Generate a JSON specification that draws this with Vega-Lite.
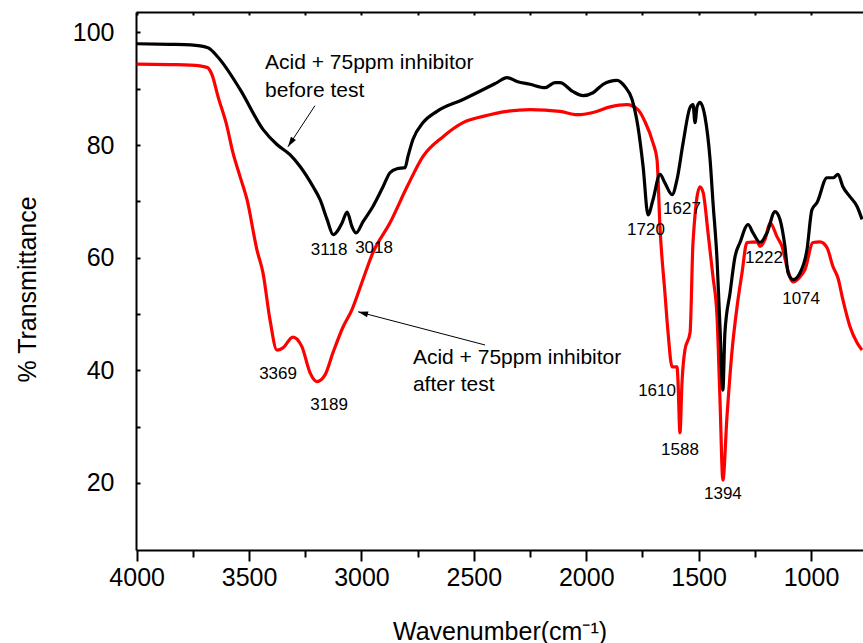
{
  "$schema": "https://vega.github.io/schema/vega-lite/v6.json",
  "width": 727,
  "height": 538,
  "autosize": {"type": "none"},
  "padding": {"left": 136, "top": 12, "right": 0, "bottom": 93},
  "background": "white",
  "config": {
    "view": {"stroke": null},
    "font": "Liberation Sans",
    "axis": {
      "grid": false,
      "domainColor": "#000000",
      "tickColor": "#000000",
      "labelColor": "#000000",
      "titleColor": "#000000",
      "domainWidth": 2,
      "tickWidth": 2,
      "labelFont": "Liberation Sans",
      "titleFont": "Liberation Sans",
      "labelFontSize": 25,
      "titleFontSize": 25,
      "titleFontWeight": "normal"
    }
  },
  "datasets": {
    "before": [
      {"w":4000,"t":98.0},{"w":3852,"t":97.9},{"w":3760,"t":97.8},{"w":3683,"t":97.3},{"w":3638,"t":95.6},{"w":3540,"t":89.9},{"w":3438,"t":82.8},{"w":3376,"t":80.1},{"w":3318,"t":78.3},{"w":3273,"t":76.2},{"w":3215,"t":72.6},{"w":3184,"t":70.3},{"w":3153,"t":66.8},{"w":3126,"t":64.1},{"w":3086,"t":66.2},{"w":3064,"t":68.1},{"w":3042,"t":65.5},{"w":3024,"t":64.4},{"w":2993,"t":66.4},{"w":2949,"t":69.1},{"w":2904,"t":72.6},{"w":2873,"t":75.1},{"w":2842,"t":75.8},{"w":2806,"t":76.0},{"w":2793,"t":78.0},{"w":2771,"t":81.0},{"w":2726,"t":84.0},{"w":2664,"t":86.0},{"w":2548,"t":88.1},{"w":2397,"t":91.1},{"w":2353,"t":92.0},{"w":2308,"t":91.3},{"w":2250,"t":90.8},{"w":2183,"t":90.2},{"w":2139,"t":91.1},{"w":2117,"t":91.1},{"w":2059,"t":89.5},{"w":2014,"t":88.8},{"w":1970,"t":89.3},{"w":1925,"t":90.8},{"w":1863,"t":91.5},{"w":1828,"t":90.4},{"w":1796,"t":88.1},{"w":1770,"t":83.3},{"w":1747,"t":76.2},{"w":1725,"t":67.6},{"w":1703,"t":70.3},{"w":1672,"t":74.8},{"w":1650,"t":73.3},{"w":1618,"t":71.2},{"w":1596,"t":73.9},{"w":1569,"t":80.4},{"w":1538,"t":86.7},{"w":1525,"t":87.2},{"w":1516,"t":84.0},{"w":1507,"t":86.8},{"w":1494,"t":87.6},{"w":1472,"t":85.1},{"w":1449,"t":77.4},{"w":1436,"t":69.8},{"w":1418,"t":59.6},{"w":1405,"t":47.7},{"w":1392,"t":36.5},{"w":1383,"t":46.7},{"w":1360,"t":53.8},{"w":1338,"t":60.2},{"w":1316,"t":62.7},{"w":1280,"t":65.9},{"w":1258,"t":64.4},{"w":1227,"t":62.7},{"w":1196,"t":64.4},{"w":1160,"t":68.2},{"w":1138,"t":66.8},{"w":1116,"t":62.0},{"w":1102,"t":57.3},{"w":1080,"t":56.1},{"w":1049,"t":57.3},{"w":1018,"t":61.4},{"w":996,"t":68.5},{"w":973,"t":69.8},{"w":929,"t":74.2},{"w":902,"t":74.2},{"w":880,"t":74.8},{"w":858,"t":72.6},{"w":826,"t":70.8},{"w":795,"t":69.1},{"w":773,"t":66.8}
    ],
    "after": [
      {"w":4000,"t":94.4},{"w":3852,"t":94.3},{"w":3760,"t":94.2},{"w":3687,"t":93.8},{"w":3665,"t":92.5},{"w":3638,"t":88.6},{"w":3598,"t":83.3},{"w":3572,"t":78.7},{"w":3540,"t":74.4},{"w":3509,"t":70.3},{"w":3465,"t":61.4},{"w":3438,"t":57.3},{"w":3407,"t":49.0},{"w":3376,"t":43.6},{"w":3349,"t":44.0},{"w":3305,"t":45.9},{"w":3265,"t":44.2},{"w":3229,"t":39.6},{"w":3198,"t":38.0},{"w":3162,"t":39.2},{"w":3127,"t":43.1},{"w":3082,"t":47.7},{"w":3042,"t":50.8},{"w":2998,"t":55.6},{"w":2949,"t":60.9},{"w":2873,"t":66.2},{"w":2797,"t":72.6},{"w":2726,"t":78.0},{"w":2637,"t":81.5},{"w":2548,"t":84.0},{"w":2459,"t":85.1},{"w":2353,"t":86.0},{"w":2250,"t":86.3},{"w":2117,"t":86.0},{"w":2041,"t":85.4},{"w":1970,"t":85.8},{"w":1894,"t":86.8},{"w":1819,"t":87.2},{"w":1770,"t":86.3},{"w":1739,"t":84.2},{"w":1703,"t":80.4},{"w":1685,"t":77.4},{"w":1672,"t":65.5},{"w":1650,"t":53.8},{"w":1636,"t":46.7},{"w":1618,"t":40.6},{"w":1596,"t":40.6},{"w":1592,"t":38.3},{"w":1583,"t":28.9},{"w":1574,"t":37.8},{"w":1561,"t":43.6},{"w":1538,"t":46.7},{"w":1525,"t":62.7},{"w":1494,"t":72.6},{"w":1480,"t":71.6},{"w":1458,"t":64.4},{"w":1436,"t":56.6},{"w":1418,"t":49.5},{"w":1405,"t":34.8},{"w":1392,"t":20.5},{"w":1374,"t":31.7},{"w":1351,"t":43.6},{"w":1329,"t":51.3},{"w":1307,"t":57.3},{"w":1285,"t":62.7},{"w":1240,"t":62.8},{"w":1227,"t":62.0},{"w":1205,"t":63.2},{"w":1182,"t":66.2},{"w":1151,"t":63.7},{"w":1129,"t":62.0},{"w":1107,"t":58.4},{"w":1080,"t":55.7},{"w":1049,"t":56.6},{"w":1027,"t":57.9},{"w":991,"t":62.7},{"w":960,"t":62.8},{"w":929,"t":61.8},{"w":902,"t":58.4},{"w":880,"t":56.4},{"w":858,"t":52.5},{"w":826,"t":47.7},{"w":795,"t":44.9},{"w":773,"t":43.6}
    ],
    "peaks": [
      {"w":3144,"t":61.4,"label":"3118"},
      {"w":2944,"t":61.8,"label":"3018"},
      {"w":3371,"t":39.4,"label":"3369"},
      {"w":3144,"t":33.9,"label":"3189"},
      {"w":1734,"t":65.0,"label":"1720"},
      {"w":1574,"t":68.7,"label":"1627"},
      {"w":1209,"t":60.0,"label":"1222"},
      {"w":1044,"t":52.7,"label":"1074"},
      {"w":1685,"t":36.4,"label":"1610"},
      {"w":1583,"t":25.9,"label":"1588"},
      {"w":1392,"t":18.0,"label":"1394"}
    ],
    "notes": [
      {"w":3429,"t":94.5,"label":"Acid + 75ppm inhibitor"},
      {"w":3429,"t":89.6,"label":"before test"},
      {"w":2771,"t":42.2,"label":"Acid + 75ppm inhibitor"},
      {"w":2771,"t":37.4,"label":"after test"}
    ],
    "arrows": [
      {"name":"before","w":3207,"t":87.0,"w2":3327,"t2":79.7},
      {"name":"after","w":2450,"t":44.5,"w2":3015,"t2":50.4}
    ]
  },
  "layer": [
    {
      "data": {"name": "after"},
      "mark": {"type": "line", "color": "#ff0000", "strokeWidth": 3.2, "strokeJoin": "round", "interpolate": "monotone"},
      "encoding": {
        "x": {"field": "w", "type": "quantitative", "scale": {"domain": [768.7, 4003], "reverse": true, "nice": false, "zero": false}, "axis": null},
        "y": {"field": "t", "type": "quantitative", "scale": {"domain": [8.09, 103.64], "nice": false, "zero": false},
          "axis": {"orient": "left", "title": "% Transmittance", "values": [20,30,40,50,60,70,80,90,100],
            "labelExpr": "datum.value % 20 === 0 ? datum.label : ''", "tickSize": -4, "labelPadding": 26,
            "titleX": -109, "titleY": 277, "titleAngle": -90, "titleAlign": "center", "titleBaseline": "middle"}}
      }
    },
    {
      "data": {"name": "before"},
      "mark": {"type": "line", "color": "#000000", "strokeWidth": 3.2, "strokeJoin": "round", "interpolate": "monotone"},
      "encoding": {
        "x": {"field": "w", "type": "quantitative", "scale": {"domain": [768.7, 4003], "reverse": true, "nice": false, "zero": false},
          "axis": {"orient": "bottom", "title": "Wavenumber(cm⁻¹)", "values": [4000,3750,3500,3250,3000,2750,2500,2250,2000,1750,1500,1250,1000],
            "format": "d", "labelExpr": "datum.value % 500 === 0 ? datum.label : ''",
            "tickSize": {"condition": {"test": "datum.value % 500 === 0", "value": 11}, "value": 7},
            "labelPadding": 4, "labelFlush": false, "titleX": 363.5, "titleY": 81, "titleAlign": "center", "titleBaseline": "middle"}},
        "y": {"field": "t", "type": "quantitative"}
      }
    },
    {
      "data": {"name": "peaks"},
      "mark": {"type": "text", "fontSize": 17, "font": "Liberation Sans", "color": "#000000", "align": "center", "baseline": "middle"},
      "encoding": {
        "x": {"field": "w", "type": "quantitative", "scale": {"domain": [768.7, 4003], "reverse": true, "nice": false, "zero": false},
          "axis": {"orient": "top", "title": null, "labels": false, "values": [4000,3750,3500,3250,3000,2750,2500,2250,2000,1750,1500,1250,1000], "tickSize": -3}},
        "y": {"field": "t", "type": "quantitative"},
        "text": {"field": "label"}
      }
    },
    {
      "data": {"name": "notes"},
      "mark": {"type": "text", "fontSize": 21, "font": "Liberation Sans", "color": "#000000", "align": "left", "baseline": "middle"},
      "encoding": {
        "x": {"field": "w", "type": "quantitative", "axis": null},
        "y": {"field": "t", "type": "quantitative"},
        "text": {"field": "label"}
      }
    },
    {
      "data": {"name": "arrows"},
      "mark": {"type": "rule", "color": "#000000", "strokeWidth": 1},
      "encoding": {
        "x": {"field": "w", "type": "quantitative", "axis": null},
        "x2": {"field": "w2"},
        "y": {"field": "t", "type": "quantitative"},
        "y2": {"field": "t2"}
      }
    },
    {
      "data": {"name": "arrows"},
      "transform": [{"filter": "datum.name === 'before'"}],
      "mark": {"type": "point", "shape": "M0,0L-0.3,1L0.3,1Z", "filled": true, "color": "#000000", "size": 400, "angle": 213.4, "opacity": 1},
      "encoding": {
        "x": {"field": "w2", "type": "quantitative", "axis": null},
        "y": {"field": "t2", "type": "quantitative"}
      }
    },
    {
      "data": {"name": "arrows"},
      "transform": [{"filter": "datum.name === 'after'"}],
      "mark": {"type": "point", "shape": "M0,0L-0.3,1L0.3,1Z", "filled": true, "color": "#000000", "size": 400, "angle": 284.6, "opacity": 1},
      "encoding": {
        "x": {"field": "w2", "type": "quantitative", "axis": null},
        "y": {"field": "t2", "type": "quantitative"}
      }
    }
  ],
  "resolve": {"axis": {"x": "independent"}}
}
